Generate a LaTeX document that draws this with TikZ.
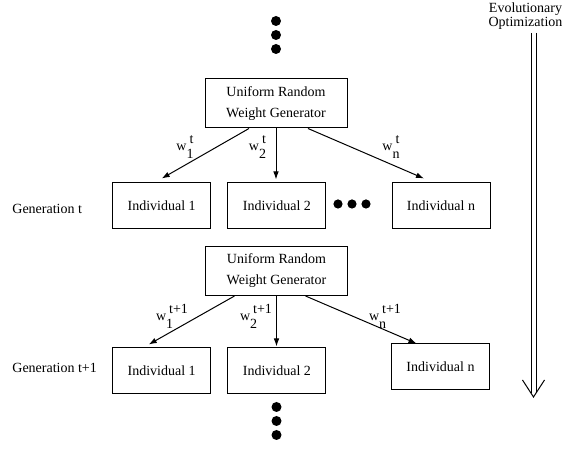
\documentclass[tikz,border=0pt]{standalone}
\usepackage{fontspec}
\setmainfont{Liberation Serif}
\usetikzlibrary{arrows.meta,calc}
\newcommand{\wlab}[2]{w\begin{tabular}[c]{@{}l@{}}\hspace{1.5pt}#1\\[-3pt]#2\end{tabular}}
\begin{document}
\begin{tikzpicture}[x=0.5pt,y=-0.5pt,
  every node/.style={font=\fontsize{7}{10.5}\selectfont, inner sep=0pt},
  genbox/.style={draw, line width=0.5pt, minimum width=71pt, minimum height=24.5pt, align=center},
  indbox/.style={draw, line width=0.5pt, minimum width=49pt, minimum height=23pt},
  arr/.style={-{Latex[length=4pt,width=2.8pt]}, line width=0.5pt},
  bigdot/.style={circle, fill, minimum size=5pt, inner sep=0pt},
  thin/.style={line width=0.5pt}]
\useasboundingbox (0,0) rectangle (564,453);

% top dots
\node[bigdot] (td1) at (276,21) {};
\node[bigdot] (td2) at (276,35) {};
\node[bigdot] (td3) at (276,49) {};

% generation t
\node[genbox] (g1) at (276,103.5) {Uniform Random\\Weight Generator};
\node[indbox] (a1) at (161.7,206) {Individual 1};
\node[indbox] (a2) at (276.9,206) {Individual 2};
\node[indbox] (an) at (441,206) {Individual n};
\node[bigdot, minimum size=4.6pt] (e1) at (338,204) {};
\node[bigdot, minimum size=4.6pt] (e2) at (352,204) {};
\node[bigdot, minimum size=4.6pt] (e3) at (366,204) {};
\node[anchor=west] (gt) at (12,209) {Generation t};

\draw[arr] ($(g1.south)+(-27,0)$) -- ($(a1.north)+(0,-4)$);
\draw[arr] (g1.south) -- ($(a2.north)+(-0.9,-3)$);
\draw[arr] ($(g1.south)+(32,0)$) -- ($(an.north)+(-17,-4)$);

\node (l1) at (185,147) {\wlab{t}{1}};
\node (l2) at (257.5,147) {\wlab{t}{2}};
\node (ln) at (391,147) {\wlab{t}{n}};

% generation t+1
\node[genbox] (g2) at (276.5,271) {Uniform Random\\Weight Generator};
\node[indbox] (b1) at (161.7,371) {Individual 1};
\node[indbox] (b2) at (276.9,371) {Individual 2};
\node[indbox] (bn) at (440.5,367) {Individual n};
\node[anchor=west] (gt1) at (12,368) {Generation t+1};

\draw[arr] ($(g2.south)+(-42,0)$) -- ($(b1.north)+(-13,-3)$);
\draw[arr] (g2.south) -- ($(b2.north)+(-0.4,-1)$);
\draw[arr] ($(g2.south)+(29,0)$) -- ($(bn.north)+(-24,0)$);

\node (m1) at (172,317) {\wlab{t+1}{1}};
\node (m2) at (256,317) {\wlab{t+1}{2}};
\node (mn) at (385,317) {\wlab{t+1}{n}};

% bottom dots
\node[bigdot] (bd1) at (276.5,407) {};
\node[bigdot] (bd2) at (276.5,421) {};
\node[bigdot] (bd3) at (276.5,435) {};

% evolutionary optimization arrow
\node[align=center, font=\fontsize{7}{7}\selectfont] (eo) at (525.5,16) {Evolutionary\\Optimization};
\coordinate (lt) at (531,33);
\coordinate (rt) at (536,33);
\coordinate (lb) at (531,393);
\coordinate (rb) at (536,393);
\coordinate (tip) at (533.5,397);
\coordinate (la) at (522.5,380);
\coordinate (ra) at (544.5,380);
\draw[thin] (lt) -- (lb);
\draw[thin] (rt) -- (rb);
\draw[thin] (la) -- (tip) -- (ra);
\end{tikzpicture}
\end{document}
